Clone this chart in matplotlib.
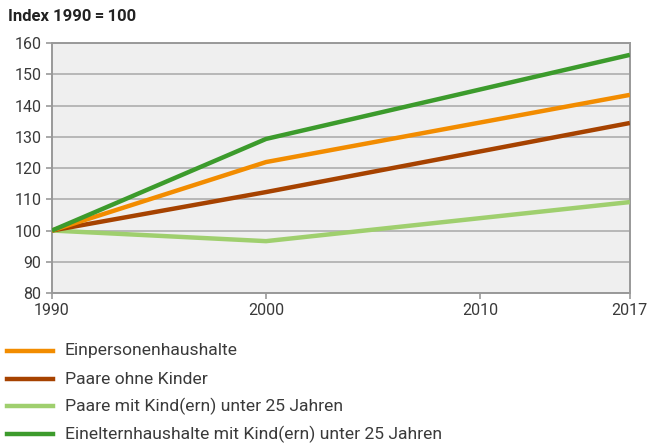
import matplotlib
matplotlib.use("Agg")
import matplotlib.pyplot as plt
from matplotlib.lines import Line2D

# data (Index 1990 = 100)
years = [1990, 2000, 2017]
einpersonen = [100, 121.9, 143.4]
paare_ohne = [100, 112.3, 134.4]
paare_mit = [100, 96.6, 109.1]
eineltern = [100, 129.3, 156.2]

labels = [
    "Einpersonenhaushalte",
    "Paare ohne Kinder",
    "Paare mit Kind(ern) unter 25 Jahren",
    "Einelternhaushalte mit Kind(ern) unter 25 Jahren",
]
colors = ["#f28c00", "#a64200", "#9fcf6e", "#3c9b2c"]
series = [einpersonen, paare_ohne, paare_mit, eineltern]

x_ticks = [1990, 2000, 2010, 2017]
y_ticks = list(range(80, 161, 10))

plt.rcParams['font.family'] = ['Roboto', 'DejaVu Sans']

fig = plt.figure(figsize=(6.5, 4.46), dpi=100)
ax = fig.add_axes([0.08, 0.343, 0.889, 0.5606])
ax.set_facecolor("#efefef")

# draw order: light green, brown, orange, green on top
for idx in [2, 1, 0, 3]:
    ax.plot(years, series[idx], color=colors[idx], lw=3.2, solid_capstyle='butt', zorder=3)

ax.set_xlim(1990, 2017)
ax.set_ylim(80, 160)
ax.set_xticks(x_ticks)
ax.set_yticks(y_ticks)
ax.grid(axis='y', color="#a8a8a8", lw=1.1)
ax.set_axisbelow(True)
for s in ax.spines.values():
    s.set_color("#999999")
    s.set_linewidth(1.4)
ax.tick_params(axis='both', colors="#999999", labelcolor="#3a3a3a", labelsize=11.5,
               length=4, width=1.2)
ax.tick_params(axis='x', pad=3)

fig.text(0.012, 0.962, "Index 1990\u2009=\u2009100", fontsize=12, fontweight='bold',
         color="#222222", va='center', ha='left')

leg_y = [351, 379, 406, 434]
for lab, col, py in zip(labels, colors, leg_y):
    yf = 1 - py / 446
    fig.add_artist(Line2D([7 / 650, 53 / 650], [yf, yf], color=col, lw=3.2,
                          transform=fig.transFigure))
    fig.text(65 / 650, yf, lab, fontsize=12.6, color="#3a3a3a",
             va='center', ha='left')

fig.savefig("out.png", dpi=100)
